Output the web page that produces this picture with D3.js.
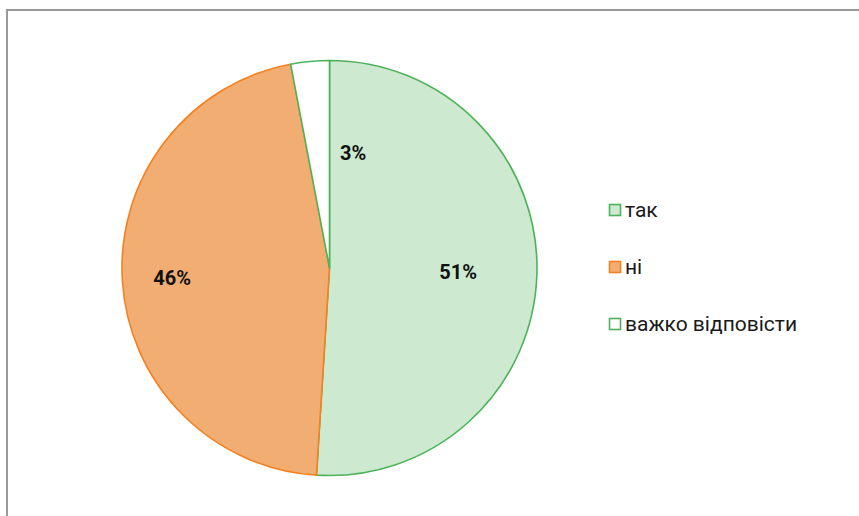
<!DOCTYPE html>
<html>
<head>
<meta charset="utf-8">
<script src="https://cdn.jsdelivr.net/npm/d3@7"></script>
<style>
  html, body { margin: 0; padding: 0; background: #fff; }
  svg { display: block; }
</style>
</head>
<body>
<svg id="chart" width="859" height="516"></svg>
<script>
// Survey answers, share of respondents (%)
const categories = ["так", "ні", "важко відповісти"];
const values = [51, 46, 3];
const fills = ["#cde9d0", "#f2ae72", "#ffffff"];
const strokes = ["#4db35a", "#f5801f", "#4db35a"];

const svg = d3.select("#chart");
const W = 859, H = 516;

// Frame lines (top and left)
svg.append("line").attr("x1", 6).attr("x2", W).attr("y1", 10).attr("y2", 10)
  .attr("stroke", "#9a9a9a").attr("stroke-width", 2);
svg.append("line").attr("x1", 7).attr("x2", 7).attr("y1", 9).attr("y2", H)
  .attr("stroke", "#9a9a9a").attr("stroke-width", 2);

const cx = 329.5, cy = 268, R = 207.5;
const pie = d3.pie().sort(null).value(d => d.value);
const arcs = pie(categories.map((c, i) => ({ cat: c, value: values[i], i })));
const arc = d3.arc().innerRadius(0).outerRadius(R);

const g = svg.append("g").attr("transform", `translate(${cx},${cy})`);
g.selectAll("path").data(arcs).join("path")
  .attr("d", arc)
  .attr("fill", d => fills[d.data.i])
  .attr("stroke", d => strokes[d.data.i])
  .attr("stroke-width", 1.6)
  .attr("stroke-linejoin", "round");

// Label placement: angle offset (rad) from slice mid-angle and radius fraction
const labelPlace = [
  { da: 0, rf: 0.62 },
  { da: 0, rf: 0.76 },
  { da: 0.297, rf: 0.565 }
];
g.selectAll("text.lbl").data(arcs).join("text")
  .attr("class", "lbl")
  .each(function (d) {
    const p = labelPlace[d.data.i];
    const a = (d.startAngle + d.endAngle) / 2 + p.da;
    const r = R * p.rf;
    d3.select(this)
      .attr("x", r * Math.sin(a))
      .attr("y", -r * Math.cos(a));
  })
  .attr("text-anchor", "middle")
  .attr("dominant-baseline", "central")
  .attr("font-family", "Roboto, sans-serif")
  .attr("font-weight", 700)
  .attr("font-size", 20)
  .attr("fill", "#111")
  .text(d => d.data.value + "%");

// Legend
const lg = svg.append("g").attr("transform", "translate(609,204)");
const item = lg.selectAll("g").data(categories).join("g")
  .attr("transform", (d, i) => `translate(0,${i * 57})`);
item.append("rect")
  .attr("x", 0.5).attr("y", 0.5).attr("width", 11).attr("height", 11)
  .attr("fill", (d, i) => fills[i])
  .attr("stroke", (d, i) => strokes[i])
  .attr("stroke-width", 1.6);
item.append("text")
  .attr("x", 16).attr("y", 6)
  .attr("dominant-baseline", "central")
  .attr("font-family", "Roboto, sans-serif")
  .attr("font-size", 21)
  .attr("fill", "#1a1a1a")
  .text(d => d);
</script>
</body>
</html>
